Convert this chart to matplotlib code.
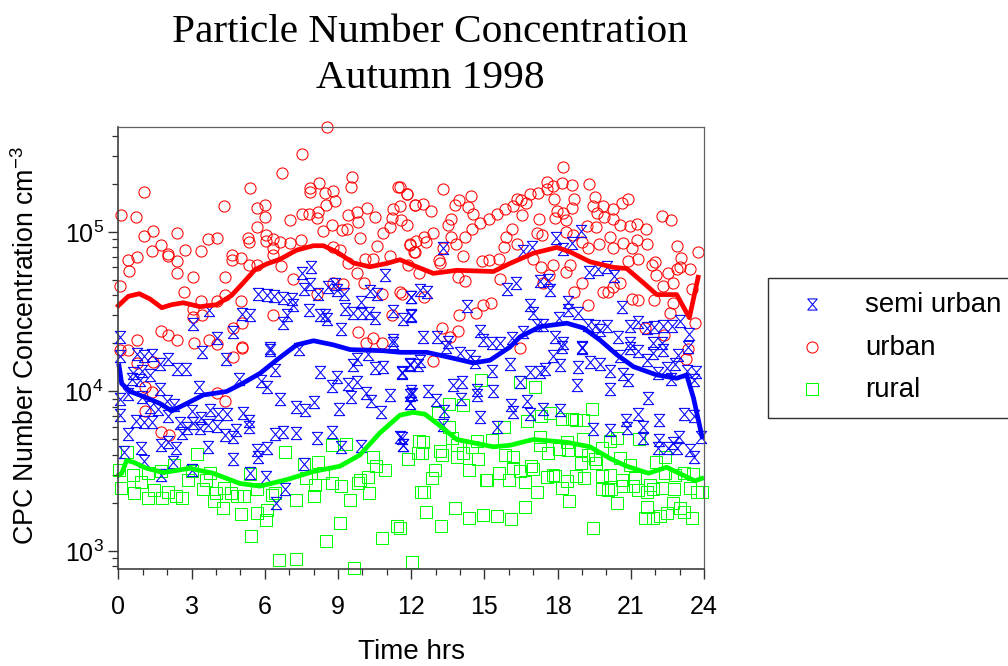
import numpy as np
import matplotlib
matplotlib.use('Agg')
import matplotlib.pyplot as plt
from matplotlib.path import Path
from matplotlib.patches import Rectangle
from matplotlib.ticker import LogLocator, NullFormatter, MultipleLocator

# (hour, concentration in thousands per cm3)
urban = [
(8.57,457),(7.51,307),(6.71,233),(1.07,179),(0.10,128),(0.74,125),(5.40,188),(4.34,146),(5.67,141),(6.0,148),
(6.02,125),(5.70,108),(7.03,119),(7.51,130),(7.83,130),(8.2,134),(8.13,122),(7.86,188),(7.86,179),(8.22,203),
(8.47,176),(8.81,181),(8.89,156),(8.5,148),(9.59,222),(9.52,192),(11.48,192),(11.82,172),(12.16,148),(11.54,146),
(11.24,139),(10.18,141),(9.79,134),(9.43,128),(10.52,125),(9.83,116),(11.2,122),(11.6,119),(11.82,110),(11.13,107),
(8.74,110),(8.4,102),(9.15,103),(9.39,104),(10.86,99),(9.9,91),(10.59,82),(11.95,84),(12.16,75),(8.81,81),
(9.08,77),(10.1,68),(10.45,68),(11.13,71),(11.89,62),(9.43,64),(9.77,55),(10.08,48),(10.79,41),(11.54,42),
(1.43,102),(1.07,94),(2.39,98),(1.73,83),(1.39,76),(2.05,73),(2.05,71),(2.73,77),(3.39,76),(3.69,90),
(4.03,91),(0.75,70),(0.41,67),(2.39,66),(0.44,57),(2.42,55),(3.06,52),(0.07,46),(4.37,52),(5.33,91),
(5.36,87),(6.04,96),(6.35,90),(6.04,88),(6.35,79),(6.35,72),(7.03,85),(7.49,89),(6.63,87),(4.67,72),
(4.67,67),(5.01,69),(5.36,62),(5.70,62),(6.67,61),(7.14,51),(2.70,42),(3.37,37),(4.37,40),(4.03,37),
(5.03,37),(8.13,41),(8.81,48),(9.22,47),(3.07,33),(3.05,29.5),(3.42,30),(6.33,30),(5.05,27),(4.71,25),
(1.73,24),(2.05,22.7),(2.39,21),(0.75,21),(3.09,20),(3.72,21),(9.81,23.6),(10.45,21.5),(10.14,20),(10.79,20),
(11.2,30),(4.03,19.8),(5.05,19),(0.07,18.3),(0.41,18.3),(0.75,15),(1.09,10.7),(1.37,9.9),(1.09,7.5),(1.43,15.2),
(4.03,9.8),(4.37,8.7),(1.75,5.6),(2.08,5.3),(4.71,16.4),(5.05,18.7),
(18.24,255),(17.56,206),(18.2,202),(18.58,197),(19.29,199),(17.83,195),(17.56,185),(13.29,185),(11.82,174),(11.55,190),
(16.87,173),(16.33,162),(17.2,175),(14.46,169),(13.98,159),(12.16,148),(12.5,150),(12.8,136),(13.8,148),(14.32,144),
(14.55,129),(16.5,159),(16.71,152),(16.19,146),(15.85,139),(15.51,129),(15.19,121),(16.56,128),(17.87,160),(18.68,160),
(18.58,141),(17.97,136),(18.24,132),(17.9,122),(18.35,118),(17.24,120),(19.54,166),(19.47,146),(19.85,146),(19.63,131),
(20.26,139),(19.9,125),(20.29,121),(20.63,153),(20.9,162),(20.56,110),(20.97,109),(21.27,112),(21.61,104),(19.2,109),
(19.58,108),(22.27,126),(22.64,118),(22.88,82),(23.74,75),(23.06,69),(21.31,68),(21.04,79),(21.65,84),(21.27,89),
(20.15,93),(19.7,84),(20.29,79),(20.7,85),(19.26,79),(18.99,86),(16.15,104),(17.15,99),(17.35,96),(15.88,93),
(15.81,81),(16.33,84),(18.34,100),(18.65,96),(14.82,113),(14.48,105),(14.21,93),(13.62,120),(13.5,110),(12.91,99),
(12.53,93),(12.2,88),(11.95,83),(12.12,75),(12.61,87),(13.62,93),(13.84,84),(14.11,71),(13.32,79),(13.16,67),
(13.2,64),(14.89,66),(15.17,67),(15.58,68),(17.01,68),(17.31,60),(17.83,62),(18.51,62),(18.35,56),(20.9,66),
(21.99,65),(21.86,62),(22.54,55),(23.02,60),(23.43,59),(22.88,59),(22.04,54),(13.94,52),(14.21,49.5),(15.64,51),
(12.34,55),(17.65,54),(17.42,48),(18.99,48),(18.68,42),(19.88,42),(20.08,42),(20.56,48),(20.29,45.5),(21.04,38),
(21.31,37.5),(21.95,37.5),(22.34,46),(22.73,48),(22.72,36),(22.61,31),(23.5,44),(23.63,27),(12.53,39),(15.27,36),
(14.93,35),(14.64,31),(13.98,30),(19.24,35),(13.25,25),(13.9,24),(22.36,22.5),(21.59,25),(11.61,41),(16.46,18.6),
(13.6,22),(12.91,15.6),(23.36,18.5),(23.27,16),
]

semi_urban = [
(7.88,60.3),(7.53,55.5),(10.94,53.5),(7.85,47),(7.61,44),(8.2,41),(8.61,45),(8.88,47),(8.95,43),(9.26,41),
(10.31,42.6),(10.59,41),(5.74,41),(6.08,40),(6.39,39.6),(6.73,38.6),(7.1,38),(7.15,35),(9.95,36.6),(9.29,33),
(9.63,31),(9.97,31),(10.29,31),(10.53,29),(7.81,32.6),(6.9,30),(6.73,27),(8.27,30),(8.47,30),(8.54,28.5),
(5.05,30.6),(5.4,30),(3.72,32.5),(3.07,26.3),(4.71,23.7),(9.13,24.6),(0.07,22),(4.03,21.5),(11.27,32),(11.65,28.5),
(11.98,30),(11.99,39.3),(11.27,21),(6.22,18.6),
(13.32,79),(18.95,101),(17.94,92),(18.6,85.5),(16.94,81),(16.6,76),(18.24,78),(19.27,56),(19.67,59),(20.04,60),
(20.32,53),(16.29,48),(15.94,44),(17.28,49),(17.62,50),(17.67,43),(12,39),(12.36,43),(12.64,42),(14.28,34.5),
(16.87,35),(17.01,31),(18.44,36.5),(18.42,32.5),(20.63,34),(18.06,29),(18.85,31),(17.42,26),(17.15,26.2),(12,29.6),
(23.02,27.5),(22.68,25.8),(22.34,25.8),(21.95,25.5),(21.65,25),(21.31,27.3),(20.97,25.8),(20.04,25.7),(19.54,25.8),(19.26,26),
(19.74,24.2),(20.49,22),(23.39,23),(14.82,24),(16.57,23.5),(16.12,21.5),(17.9,22),(12.48,22),(13.05,22),(14.96,21),
(13.53,20.5),(15.3,20),(15.64,20),(18.24,20),(19,19),(20.97,20),(21.93,20),(22.27,20),(23.36,19),
(0.07,16.6),(0.75,17.2),(1.07,16.7),(1.39,17),(2.05,16),(2.42,13.8),(2.76,13.8),(3.42,17.8),(4.4,16),(6.22,18.2),
(7.4,18.4),(0.62,13),(0.55,12),(0.89,11.8),(1.3,12.6),(1.71,14.8),(0.98,13.4),(1.71,10.4),(3.32,10.6),(4.95,12),
(5.83,11.7),(6.08,10.6),(6.42,13.7),(0.07,9),(0.41,9.6),(0.96,9.2),(1.3,8),(1.64,7.8),(1.98,8.7),(2.28,8.2),
(2.05,7),(0.07,7.1),(0.72,6.5),(1.07,6.4),(1.37,6.4),(3.01,7.5),(3.76,7.7),(3.39,6.8),(4.1,7.2),(4.44,7.2),
(3.69,6.2),(4.03,6.1),(2.53,6.3),(2.8,5.9),(2.6,5.5),(3.07,6.3),(3.35,5.9),(5.12,7.3),(5.37,6.5),(5.37,6),
(0.41,5.4),(4.37,5.3),(4.81,5.7),(4.71,5.2),(6.42,5.4),(6.76,5.6),(7.27,5.5),(8.13,5.1),(8.74,5.6),(6.62,9),
(7.28,8),(7.65,7.6),(8.02,8.6),(9.06,7.8),(9.54,9.2),(10.14,9.8),(10.34,8.7),(10.75,7.4),(11.13,9.5),(12.02,9.6),
(11.95,8.5),(8.27,13.2),(8.95,12.3),(8.74,10.9),(9.4,11.2),(9.77,11.5),(9.6,14.7),(10.52,14),(10.86,14.2),(11.61,13.2),
(11.95,14.8),(9.8,16),(10.25,17.3),(11.27,20),(12.36,15.5),(0.23,4.2),(0.92,4.45),(1.75,4.6),(2.05,4.85),(2.36,4.45),
(3.66,4.5),(1.05,3.65),(2.25,3.6),(3,3.2),(1.73,3),(4.71,3.75),(5.67,4.3),(6.08,4.4),(5.74,3.9),(5.4,3.1),
(6.05,2.9),(6.83,2.45),(6.45,2),(7.62,3.5),(9.11,4.5),(9.96,4.55),(11.54,5.2),(11.68,4.6),
(11.95,9.5),(12,10),(12.71,10),(13.01,8.9),(11.95,8.5),(14.05,9),(14.69,10.2),(14.69,9.5),(15.37,10),(13.73,11),
(14.07,11.5),(16.46,11.4),(18.79,11),(20.13,10.4),(21.72,9.1),(11.95,14.7),(12.3,14.7),(11.61,13),(14,17.4),(14.41,16.6),
(13.42,19),(14.62,15.3),(16.05,14.8),(15.3,13.4),(16.85,13.2),(17.28,13.3),(17.49,13.8),(18.1,14.7),(17.83,16.6),(18.17,19),
(19.02,18.6),(18.83,14.2),(19.33,15.2),(19.72,14.8),(20.15,13.4),(20.67,12.8),(20.88,11.8),(20.56,16.6),(20.97,18.7),(21.31,18),
(21.65,15.8),(21.93,17.5),(22.34,18.2),(22.47,14),(22.13,13),(22.64,12),(22.81,14.8),(23.29,13.5),(23.68,13.3),(23.57,11.8),
(22.95,17),(16.09,8.2),(16.19,7.4),(16.74,8.7),(16.87,7.2),(17.42,7.8),(18.1,7.6),(13.36,7.5),(13.32,6.2),(14.82,6.9),
(15.51,6),(19.47,5.8),(20.15,5.7),(20.79,6.6),(20.84,5.9),(21.31,7.2),(21.48,6),(21.48,5.1),(22.17,6.6),(23.16,7.2),
(23.57,7),(23.87,5.2),(22.17,4.95),(22.13,4.4),(22.54,4.4),(22.75,4.75),(22.88,4.4),(22.99,5.2),(23.43,4.3),(23.57,3.9),
(11.61,5.1),(11.68,4.6),
]

rural = [
(12.34,4.9),(12.3,4.1),(11.89,3.8),(12.4,2.35),(0.34,4.2),(3.21,4.05),(6.83,4.15),(8.77,4.6),(9.31,4.7),(7.61,3.5),
(8.2,3.6),(2.28,3.45),(0.04,3.2),(0.62,3),(1.23,3.1),(1.75,3.15),(2.87,2.8),(3,3.15),(3.76,3.07),(3.59,2.8),
(5.4,3.05),(0.93,2.7),(0.1,2.5),(0.64,2.3),(1.2,2.15),(1.48,2.4),(1.79,2.15),(2.05,2.35),(2.36,2.2),(2.61,2.15),
(3.46,2.45),(4,2.3),(3.93,2.05),(4.29,1.85),(4.33,2.5),(4.6,2.3),(4.85,2.2),(5.15,2.2),(5.03,1.7),(5.7,2.45),
(5.7,1.72),(6.08,1.8),(6.04,1.56),(6.28,2.25),(6.42,2.3),(7.3,2.1),(8.0,2.2),(7.69,2.85),(8.06,2.6),(8.77,2.65),
(8.4,3.1),(9.13,2.55),(9.5,2.1),(9.84,2.65),(9.9,2.8),(10.22,2.9),(10.26,2.3),(10.56,3.4),(10.45,3.9),(10.93,3.2),
(5.44,1.25),(8.51,1.15),(9.08,1.5),(10.82,1.2),(11.41,1.43),(6.6,0.88),(7.27,0.885),(9.67,0.78),(12.03,0.85),
(14.86,11.8),(16.46,11.4),(17.08,10.6),(13.55,8.3),(14.14,8.2),(13.08,7.3),(13.57,6),(15.82,6),(16.74,6.5),(17.31,7),
(17.67,7.3),(18.2,6.7),(18.61,6.7),(18.75,6.6),(19.06,6.6),(19.4,7.8),(13.66,5.1),(14.71,4.9),(15.3,4.95),(17.28,5.2),
(17.28,4.6),(18.38,4.8),(19.03,5),(20.15,4.9),(20.45,5.1),(21.35,5),(19.81,4.4),(13.87,4.6),(14.48,4.5),(14.14,4.1),
(12.47,4.8),(12.43,4.1),(13.18,4.25),(13.28,4),(13.87,3.9),(14.73,3.75),(15.85,4),(16.16,3.9),(17.62,4.1),(18.04,4.35),
(18.42,4.3),(18.96,4.3),(19.26,4),(19.54,3.75),(19.58,3.55),(18.96,3.55),(20.56,3.85),(20.95,3.45),(22.03,3.6),(22.41,3.07),
(22.41,3.9),(12.98,3.2),(12.87,2.85),(14.37,3.2),(15.62,3.07),(16.01,2.8),(16.19,3.3),(16.46,3.15),(16.91,3.4),(17,3.25),
(16.67,2.7),(15.07,2.77),(15.1,2.8),(17.56,2.9),(17.83,3),(17.9,2.95),(18.38,2.75),(18.75,2.95),(19.09,2.85),(19.81,2.95),
(20.15,3),(20.63,2.8),(21.18,2.85),(22.82,3),(23.16,3.1),(23.53,3.05),(12.53,2.35),(17.16,2.35),(18.17,2.5),(19.81,2.45),
(20.08,2.4),(20.18,2.45),(20.7,2.55),(21.11,2.55),(21.31,2.4),(21.65,2.35),(21.79,2.6),(21.93,2.45),(22.27,2.5),(22.77,2.45),
(23.43,2.5),(23.7,2.35),(23.91,2.35),(18.47,2.05),(20.43,2),(22.75,2),(23.02,1.85),(23.16,1.75),(23.5,1.6),(21.65,1.9),
(21.59,1.62),(21.93,1.62),(22.2,1.65),(22.47,1.72),(16.67,1.9),(13.8,1.85),(12.61,1.75),(14.37,1.62),(14.93,1.68),(15.51,1.65),
(16.1,1.58),(13.21,1.43),(11.55,1.4),(19.47,1.4),
]

# smoothed curves
urban_fit = [
(0,34.5),(0.41,39.5),(0.86,41),(1.3,38),(1.78,33.5),(2.19,35),(2.66,36),(3.35,34),(4.03,35),(4.64,40),
(5.12,48),(5.6,58),(6.08,63),(6.63,67.5),(7.31,77),(8,82),(8.4,82),(8.95,75),(9.63,64),(10.31,60.5),
(11,63.5),(11.54,67),(12.23,60.5),(12.91,55),(13.87,57.5),(15.37,56.5),(16.05,63.5),(17,73.5),(17.97,80),(18.51,75),
(19.33,65),(20.29,60),(20.83,59),(21.52,48),(22.06,40.5),(22.88,40.5),(23.4,29),(23.76,52),
]
semi_urban_fit = [
(0.03,14.5),(0.14,11.2),(0.48,10),(1.03,9.3),(1.71,8.4),(2.19,7.55),(2.8,8.4),(3.48,9.5),(4.44,10),(5.12,11.3),
(5.81,13),(6.5,15.8),(7.31,19.6),(8,20.8),(8.81,19.6),(9.5,18.3),(10.86,18),(11.55,17.6),(12.64,17.6),(13.46,16.5),
(14.55,15.1),(15.23,15.7),(16.05,19),(16.46,22),(17.28,25.5),(18.38,26.8),(19.06,25),(19.74,21),(20.43,17),(21.11,14.3),
(22.06,12.7),(22.88,12.1),(23.29,12.7),(23.57,9.1),(23.92,5.2),
]
rural_fit = [
(0.03,3),(0.14,3.07),(0.34,3.7),(0.62,3.6),(1.16,3.3),(1.84,3.1),(2.93,3.3),(3.89,3.07),(4.98,2.65),(5.81,2.55),
(6.9,2.8),(8,3.15),(9.08,3.4),(9.9,4),(10.72,5.5),(11.54,7.1),(12.09,7.4),(12.57,7.2),(13.18,6.1),(13.87,5),
(15.37,4.5),(16.05,4.6),(17,5),(18.38,4.8),(19.33,4.5),(20.15,3.8),(20.83,3.4),(21.72,3.07),(22.47,3.35),(23.63,2.75),
(23.91,2.85),
]

plt.rcParams['font.family'] = ['Liberation Sans', 'DejaVu Sans']
plt.rcParams['mathtext.default'] = 'regular'

RED = '#ff0000'
BLUE = '#0000ff'
GREEN = '#00ff00'

# hourglass marker
hourglass = Path([(-0.85, 1), (0.85, 1), (-0.85, -1), (0.85, -1), (-0.85, 1)],
                 [Path.MOVETO, Path.LINETO, Path.LINETO, Path.LINETO, Path.CLOSEPOLY])


def split(points):
    arr = np.array(points)
    return arr[:, 0], arr[:, 1] * 1000


fig = plt.figure(figsize=(10.08, 6.66), dpi=100)
ax = fig.add_axes([118.3 / 1008, 1 - 569 / 666, (704 - 118.3) / 1008, (569 - 127) / 666])

for pts, marker, col, size in [(urban, 'o', RED, 8), (rural, 's', GREEN, 8), (semi_urban, hourglass, BLUE, 8.8)]:
    x, y = split(pts)
    ax.plot(x, y, ls='none', marker=marker, mfc='none', mec=col, ms=size, mew=0.75, clip_on=False)

for pts, col in [(urban_fit, RED), (semi_urban_fit, BLUE), (rural_fit, GREEN)]:
    x, y = split(pts)
    ax.plot(x, y, color=col, lw=3.4, solid_joinstyle='round', clip_on=False)

ax.set_yscale('log')
ax.set_xlim(0, 24)
ax.set_ylim(771, 455000)
ax.xaxis.set_major_locator(MultipleLocator(3))
ax.xaxis.set_minor_locator(MultipleLocator(1))
ax.yaxis.set_major_locator(LogLocator(base=10))
ax.yaxis.set_minor_locator(LogLocator(base=10, subs=range(2, 10), numticks=12))
ax.yaxis.set_minor_formatter(NullFormatter())
ax.tick_params(which='major', length=7.5, width=1.0, color='#303030', labelsize=18)
ax.tick_params(axis='x', which='major', pad=11)
ax.tick_params(axis='y', which='major', pad=3)
ax.tick_params(which='minor', length=4, width=0.9, color='#303030')
for s in ['left', 'bottom']:
    ax.spines[s].set_linewidth(1.2)
    ax.spines[s].set_color('#404040')
for s in ['top', 'right']:
    ax.spines[s].set_linewidth(0.9)
    ax.spines[s].set_color('#606060')

fig.text(430 / 1008, 1 - 33 / 666, 'Particle Number Concentration', family='Liberation Serif',
         fontsize=29.7, ha='center', va='center')
fig.text(430 / 1008, 1 - 78 / 666, 'Autumn 1998', family='Liberation Serif',
         fontsize=29.7, ha='center', va='center')
fig.text(411 / 1008, 1 - 652 / 666, 'Time hrs', fontsize=20, ha='center', va='center')
fig.text(26 / 1008, 1 - 346 / 666, 'CPC Number Concentration cm$^{-3}$', fontsize=19.3,
         rotation=90, ha='center', va='center')

# legend box runs off the right edge of the picture
fig.add_artist(Rectangle((768 / 1008, 1 - 418 / 666), 300 / 1008, 140 / 666, transform=fig.transFigure,
                         fc='white', ec='#303030', lw=1.0))
legend_items = [('semi urban', hourglass, BLUE, 304), ('urban', 'o', RED, 347), ('rural', 's', GREEN, 389)]
for label, marker, col, py in legend_items:
    fig.add_artist(plt.Line2D([812 / 1008], [1 - py / 666], transform=fig.transFigure, ls='none',
                              marker=marker, mfc='none', mec=col, ms=8, mew=0.75))
    fig.text(865 / 1008, 1 - (py + 1) / 666, label, fontsize=19.9, va='center')

fig.savefig('out.png', dpi=100)
